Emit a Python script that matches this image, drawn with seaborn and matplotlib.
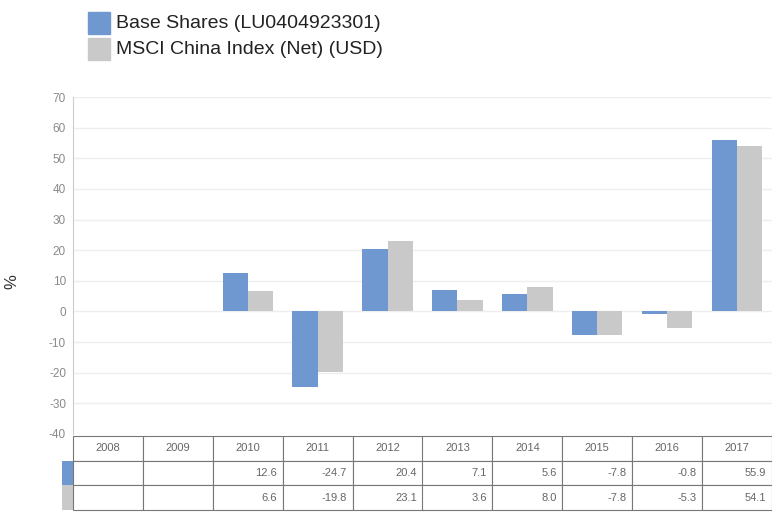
import numpy as np
import pandas as pd
import matplotlib
matplotlib.use("Agg")
import matplotlib.pyplot as plt
import seaborn as sns

years = ["2008", "2009", "2010", "2011", "2012", "2013", "2014", "2015", "2016", "2017"]
base_shares = [np.nan, np.nan, 12.6, -24.7, 20.4, 7.1, 5.6, -7.8, -0.8, 55.9]
msci_china = [np.nan, np.nan, 6.6, -19.8, 23.1, 3.6, 8.0, -7.8, -5.3, 54.1]
series_names = ["Base Shares (LU0404923301)", "MSCI China Index (Net) (USD)"]
colors = ["#6f98d0", "#c9c9c9"]

df = pd.DataFrame({
    "year": years * 2,
    "value": base_shares + msci_china,
    "series": [series_names[0]] * len(years) + [series_names[1]] * len(years),
})

sns.set_style("white")
plt.rcParams["font.family"] = ["Liberation Sans", "DejaVu Sans"]
plt.rcParams["axes.unicode_minus"] = False

fig = plt.figure(figsize=(7.72, 5.12), dpi=100)
W, H = 772, 512
ax_l, ax_r, ax_t, ax_b = 73, 772, 97, 434
ax = fig.add_axes([ax_l / W, 1 - ax_b / H, (ax_r - ax_l) / W, (ax_b - ax_t) / H])

sns.barplot(data=df, x="year", y="value", hue="series", order=years,
            hue_order=series_names, palette=colors, width=0.72,
            saturation=1, linewidth=0, ax=ax, legend=False)

ax.set_ylim(-40, 70)
ax.set_yticks(range(-40, 71, 10))
ax.yaxis.grid(True, color="#eeeeee", linewidth=1)
ax.set_axisbelow(True)
ax.tick_params(axis="y", labelsize=8.5, labelcolor="#8a8a8a", length=0, pad=5)
ax.set_xticks([])
ax.set_xlabel("")
ax.set_ylabel("")
for side in ["top", "right", "bottom"]:
    ax.spines[side].set_visible(False)
ax.spines["left"].set_color("#cccccc")
fig.text(12 / W, 1 - 282 / H, "%", rotation=90, fontsize=12, color="#333333",
         ha="center", va="center")

# data table underneath
def fmt(v):
    return "" if np.isnan(v) else f"{v:.1f}"

cell_text = [[""] + years,
             [""] + [fmt(v) for v in base_shares],
             [""] + [fmt(v) for v in msci_china]]
ax_w = ax_r - ax_l
ax_h = ax_b - ax_t
swatch_w = 11
col_w = ax_w / len(years)
tbl = ax.table(cellText=cell_text,
               colWidths=[swatch_w / ax_w] + [col_w / ax_w] * len(years),
               cellLoc="right",
               bbox=[-swatch_w / ax_w, -76 / ax_h, (ax_w + swatch_w) / ax_w, 74 / ax_h])
tbl.auto_set_font_size(False)
for (r, c), cell in tbl.get_celld().items():
    cell.set_edgecolor("#777777")
    cell.set_linewidth(0.8)
    cell.get_text().set_fontsize(8)
    cell.get_text().set_color("#666666")
    if r == 0:
        cell.get_text().set_ha("center")
        cell._loc = "center"
    if c == 0:
        cell.set_edgecolor("none")
        if r > 0:
            cell.set_facecolor(colors[r - 1])
    cell.PAD = 0.08

# legend at the top
for i, name in enumerate(series_names):
    y0 = 12 + i * 26
    fig.patches.append(plt.Rectangle((88 / W, 1 - (y0 + 22) / H), 22 / W, 22 / H,
                                     transform=fig.transFigure, color=colors[i]))
    fig.text(116 / W, 1 - (y0 + 11) / H, name, fontsize=14, color="#222222",
             va="center", ha="left")

fig.savefig("out.png", dpi=100)
